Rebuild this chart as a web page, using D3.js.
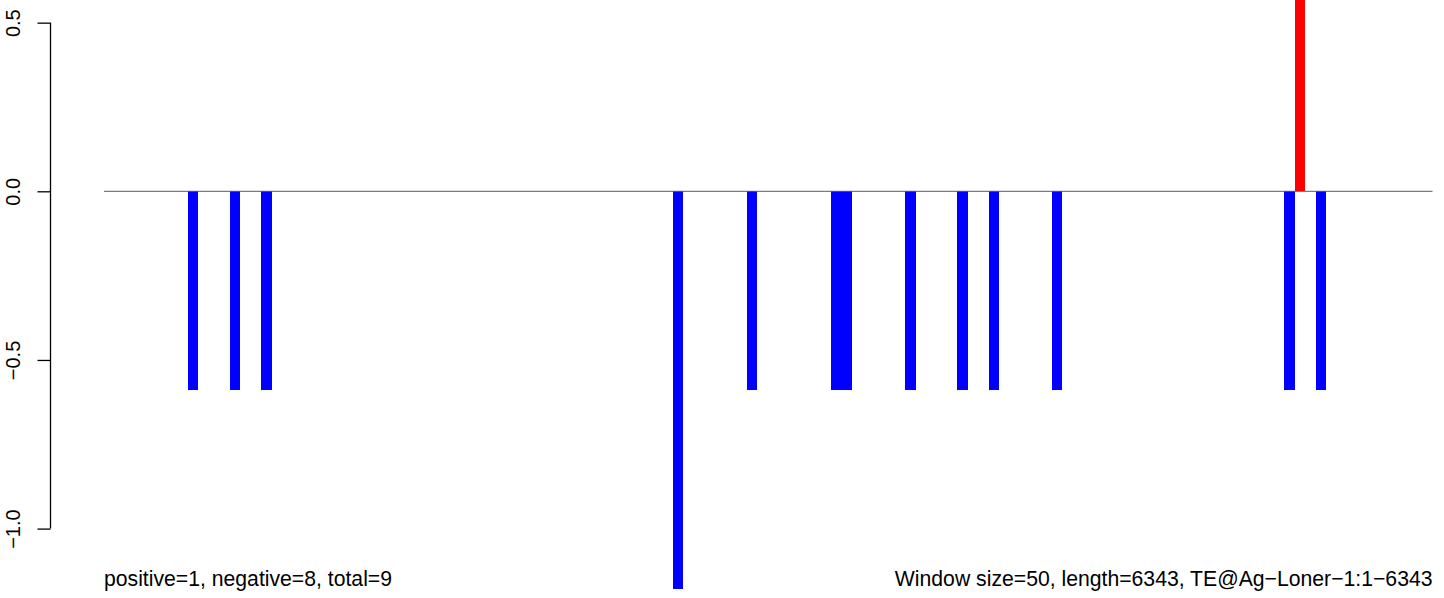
<!DOCTYPE html>
<html>
<head>
<meta charset="utf-8">
<script src="https://cdn.jsdelivr.net/npm/d3@7"></script>
<style>
  html, body { margin: 0; padding: 0; background: #fff; }
  svg { display: block; }
  text { font-family: "Liberation Sans", Arial, Helvetica, sans-serif; fill: #000; }
</style>
</head>
<body>
<svg id="chart" width="1444" height="598"></svg>
<script>
// ---- data ----
const seqLength = 6343;
const windowSize = 50;
const windowStarts = [400, 600, 750, 2715, 3070, 3470, 3520, 3825, 4075, 4225, 4525, 5635, 5685, 5785];
const windowValues = [-0.59, -0.59, -0.59, -1.18, -0.59, -0.59, -0.59, -0.59, -0.59, -0.59, -0.59, -0.59, 0.59, -0.59];
const yTicks = [0.5, 0.0, -0.5, -1.0];
const yTickLabels = ["0.5", "0.0", "\u22120.5", "\u22121.0"];
const leftNote = "positive=1, negative=8, total=9";
const rightNote = "Window size=50, length=6343, TE@Ag\u2212Loner\u22121:1\u22126343";

// ---- layout ----
const svg = d3.select("#chart");
const x = d3.scaleLinear().domain([0, seqLength]).range([104, 1432.5]);
const y = d3.scaleLinear().domain([0, -1]).range([191.3, 528.6]);

// bars
svg.append("g")
  .attr("shape-rendering", "crispEdges")
  .selectAll("rect")
  .data(windowStarts.map((s, i) => ({ s, v: windowValues[i] })))
  .join("rect")
  .attr("x", d => Math.round(x(d.s)))
  .attr("width", d => Math.round(x(d.s + windowSize)) - Math.round(x(d.s)))
  .attr("y", d => y(Math.max(0, d.v)))
  .attr("height", d => Math.abs(y(d.v) - y(0)))
  .attr("fill", d => d.v > 0 ? "#ff0000" : "#0000ff");

// zero line
svg.append("line")
  .attr("x1", x(0)).attr("x2", x(seqLength))
  .attr("y1", y(0)).attr("y2", y(0))
  .attr("stroke", "#5a5a5a").attr("stroke-width", 1);

// y axis
const axis = d3.axisLeft(y)
  .tickValues(yTicks)
  .tickSize(13)
  .tickPadding(0)
  .tickFormat((d, i) => yTickLabels[i]);
const gA = svg.append("g").attr("transform", "translate(50.5,0)").call(axis);
gA.select(".domain")
  .attr("d", `M0,${y(0.5)}V${y(-1.0)}`)
  .attr("stroke", "#000").attr("stroke-width", 1.3);
gA.selectAll(".tick line").attr("stroke", "#000").attr("stroke-width", 1.3);
gA.selectAll(".tick text")
  .attr("x", 0).attr("y", 0).attr("dy", null)
  .attr("text-anchor", "middle")
  .attr("transform", "translate(-30.5,0) rotate(-90)")
  .style("font-size", "20px")
  .style("font-family", "'Liberation Sans', Arial, sans-serif");

// notes
svg.append("text")
  .attr("x", 104).attr("y", 586)
  .style("font-size", "21.2px")
  .text(leftNote);
svg.append("text")
  .attr("x", 1432.5).attr("y", 586)
  .attr("text-anchor", "end")
  .style("font-size", "21.2px")
  .text(rightNote);
</script>
</body>
</html>
